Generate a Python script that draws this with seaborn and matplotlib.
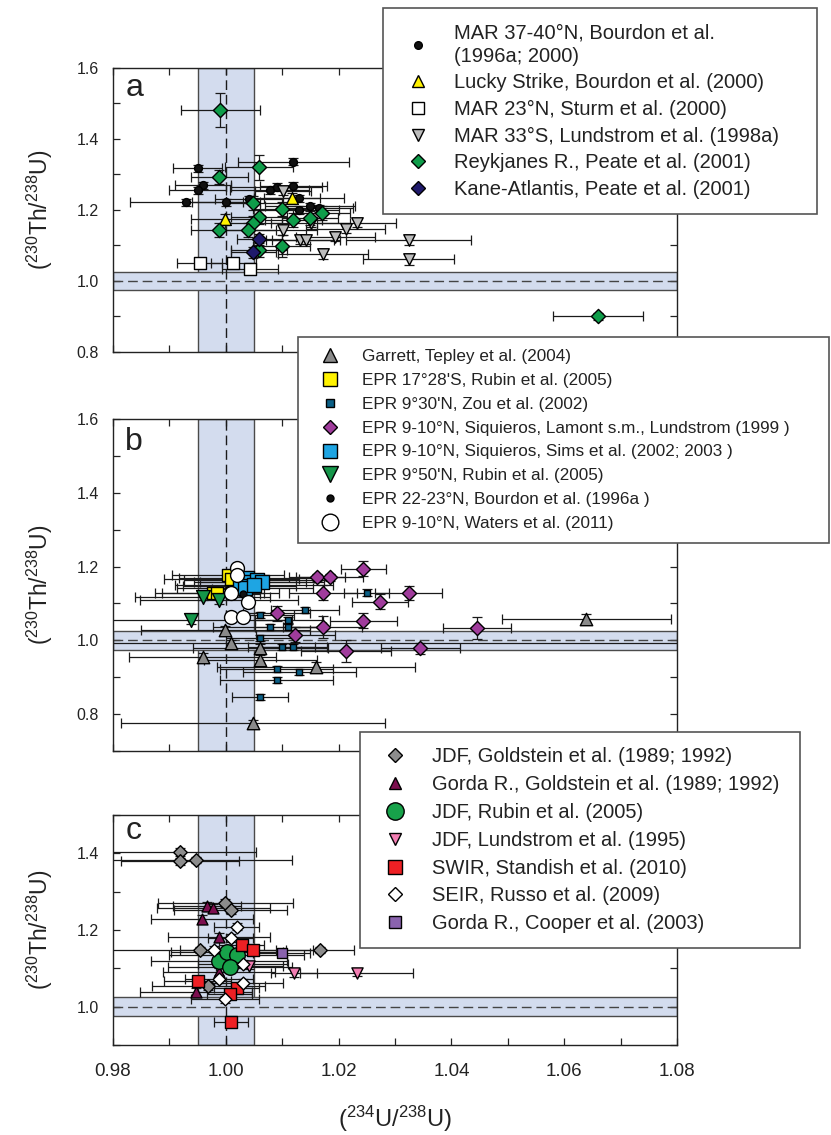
import matplotlib
matplotlib.use("Agg")
import matplotlib.pyplot as plt
from matplotlib.lines import Line2D
from matplotlib.ticker import MultipleLocator, FixedLocator
import seaborn as sns

sns.set_theme(style="ticks")
plt.rcParams["font.family"] = ["Liberation Sans", "DejaVu Sans"]
plt.rcParams["mathtext.fontset"] = "custom"
plt.rcParams["mathtext.rm"] = "Liberation Sans"
plt.rcParams["mathtext.it"] = "Liberation Sans:italic"
plt.rcParams["mathtext.default"] = "regular"

# ---------------- panel a : Mid-Atlantic Ridge ----------------
mar37_x = [0.9950, 1.0120, 0.9960, 0.9950, 0.9930, 1.0000, 1.0041, 1.0078, 1.0090, 1.0120, 1.0130, 1.0130, 1.0149, 1.0165]
mar37_y = [1.317, 1.336, 1.270, 1.256, 1.222, 1.222, 1.230, 1.256, 1.266, 1.268, 1.233, 1.200, 1.211, 1.205]
mar37_xe = [0.0044, 0.0099, 0.005, 0.005, 0.010, 0.006, 0.006, 0.007, 0.008, 0.006, 0.008, 0.007, 0.008, 0.006]
mar37_ye = [0.010, 0.010, 0.010, 0.010, 0.010, 0.010, 0.010, 0.010, 0.010, 0.012, 0.010, 0.010, 0.010, 0.010]

lucky_x = [1.0117, 0.9999]
lucky_y = [1.233, 1.174]
lucky_xe = [0.005, 0.006]
lucky_ye = [0.015, 0.015]

mar23_x = [0.9954, 1.0013, 1.0043]
mar23_y = [1.050, 1.052, 1.033]
mar23_xe = [0.004, 0.004, 0.005]
mar23_ye = [0.010, 0.010, 0.010]

mar33_x = [1.0101, 1.0101, 1.0132, 1.0142, 1.0151, 1.0194, 1.0213, 1.0232, 1.0172, 1.0324, 1.0324]
mar33_y = [1.253, 1.144, 1.115, 1.115, 1.163, 1.125, 1.146, 1.163, 1.076, 1.115, 1.061]
mar33_xe = [0.005, 0.006, 0.006, 0.006, 0.007, 0.007, 0.007, 0.007, 0.008, 0.011, 0.008]
mar33_ye = [0.010, 0.015, 0.012, 0.012, 0.012, 0.012, 0.012, 0.012, 0.015, 0.015, 0.015]

reyk_x = [0.9990, 1.0059, 0.99885, 1.0049, 1.0099, 1.0059, 1.0120, 1.0149, 1.0170, 1.0049, 1.0039, 0.99885, 1.0099, 1.0059, 1.0660]
reyk_y = [1.482, 1.320, 1.294, 1.219, 1.203, 1.181, 1.172, 1.177, 1.192, 1.1625, 1.144, 1.144, 1.099, 1.087, 0.901]
reyk_xe = [0.007, 0.006, 0.005, 0.005, 0.005, 0.005, 0.005, 0.005, 0.005, 0.005, 0.005, 0.005, 0.005, 0.005, 0.008]
reyk_ye = [0.047, 0.035, 0.020, 0.020, 0.020, 0.020, 0.020, 0.020, 0.020, 0.020, 0.020, 0.020, 0.030, 0.020, 0.010]

kane_x = [1.0059, 1.0049]
kane_y = [1.117, 1.081]
kane_xe = [0.004, 0.004]
kane_ye = [0.015, 0.015]

# ---------------- panel b : East Pacific Rise ----------------
gar_x = [0.9999, 1.0009, 0.9959, 1.0061, 1.0160, 1.0061, 1.0049, 1.0639]
gar_y = [1.028, 0.992, 0.956, 0.947, 0.929, 0.979, 0.775, 1.057]
gar_xe = [0.015, 0.080, 0.013, 0.010, 0.0176, 0.012, 0.0234, 0.015]
gar_ye = [0.010, 0.008, 0.010, 0.012, 0.012, 0.010, 0.008, 0.014]

epr17_x = [1.0004, 1.0010, 0.9977, 0.9984]
epr17_y = [1.177, 1.165, 1.128, 1.128]
epr17_xe = [0.010, 0.012, 0.009, 0.011]
epr17_ye = [0.008, 0.008, 0.008, 0.008]

zou_x = [1.0140, 1.0061, 1.0078, 1.0111, 1.0111, 1.0061, 1.0099, 1.0120, 1.0090, 1.0130, 1.0090, 1.0061, 1.0250]
zou_y = [1.082, 1.069, 1.037, 1.055, 1.037, 1.006, 0.983, 0.983, 0.922, 0.915, 0.893, 0.847, 1.129]
zou_xe = [0.006, 0.006, 0.010, 0.006, 0.006, 0.006, 0.006, 0.006, 0.010, 0.010, 0.010, 0.005, 0.004]
zou_ye = [0.008, 0.008, 0.008, 0.008, 0.008, 0.008, 0.008, 0.008, 0.008, 0.008, 0.008, 0.008, 0.010]

siq_x = [1.0244, 1.0162, 1.0184, 1.0172, 1.0273, 1.0324, 1.0244, 1.0172, 1.0445, 1.0090, 1.0123, 1.0213, 1.0345]
siq_y = [1.194, 1.171, 1.171, 1.129, 1.105, 1.128, 1.053, 1.037, 1.033, 1.073, 1.015, 0.972, 0.978]
siq_xe = [0.004, 0.005, 0.006, 0.006, 0.005, 0.006, 0.006, 0.007, 0.006, 0.006, 0.007, 0.008, 0.007]
siq_ye = [0.020, 0.010, 0.010, 0.020, 0.020, 0.020, 0.020, 0.030, 0.030, 0.020, 0.020, 0.030, 0.015]

sims_x = [1.0037, 1.0043, 1.0055, 1.0064, 1.0025, 1.0034, 1.0050]
sims_y = [1.168, 1.159, 1.164, 1.159, 1.146, 1.141, 1.150]
sims_xe = [0.012, 0.010, 0.013, 0.011, 0.010, 0.012, 0.014]
sims_ye = [0.008, 0.008, 0.008, 0.008, 0.008, 0.008, 0.008]

epr950_x = [0.9959, 0.99885, 0.9938]
epr950_y = [1.118, 1.109, 1.055]
epr950_xe = [0.012, 0.014, 0.018]
epr950_ye = [0.010, 0.010, 0.010]

epr22_x = [1.0005, 1.0030]
epr22_y = [1.140, 1.125]
epr22_xe = [0.003, 0.003]
epr22_ye = [0.005, 0.005]

waters_x = [1.0019, 1.0019, 1.0009, 1.0040, 1.0010, 1.0030]
waters_y = [1.197, 1.177, 1.128, 1.105, 1.063, 1.063]

# ---------------- panel c : Juan de Fuca, Gorda, SWIR, SEIR ----------------
jdfg_x = [0.9919, 0.9919, 0.9948, 0.9999, 1.0009, 1.0167, 0.9954, 0.9969]
jdfg_y = [1.403, 1.379, 1.383, 1.270, 1.253, 1.147, 1.147, 1.054]
jdfg_xe = [0.0135, 0.0105, 0.017, 0.012, 0.010, 0.006, 0.020, 0.010]
jdfg_ye = [0.010, 0.010, 0.008, 0.010, 0.010, 0.008, 0.008, 0.010]

gordag_x = [0.9967, 0.9978, 0.9958, 0.9988, 0.9947, 0.9988]
gordag_y = [1.263, 1.257, 1.229, 1.182, 1.038, 1.091]
gordag_xe = [0.006, 0.010, 0.009, 0.009, 0.010, 0.010]
gordag_ye = [0.010, 0.010, 0.010, 0.010, 0.010, 0.010]

jdfr_x = [0.9988, 1.0002, 1.0019, 1.0007]
jdfr_y = [1.120, 1.142, 1.134, 1.103]
jdfr_xe = [0.012, 0.010, 0.012, 0.011]
jdfr_ye = [0.010, 0.010, 0.010, 0.010]

jdfl_x = [1.0121, 1.0232, 1.0042]
jdfl_y = [1.087, 1.089, 1.107]
jdfl_xe = [0.004, 0.010, 0.006]
jdfl_ye = [0.010, 0.010, 0.010]

swir_x = [1.0028, 1.0049, 0.9950, 1.0019, 1.0007, 1.0009]
swir_y = [1.160, 1.149, 1.067, 1.048, 1.032, 0.961]
swir_xe = [0.004, 0.004, 0.006, 0.004, 0.004, 0.003]
swir_ye = [0.010, 0.010, 0.010, 0.010, 0.010, 0.008]

seir_x = [1.0019, 1.0009, 0.9979, 1.0031, 0.9988, 1.0031, 0.9999]
seir_y = [1.209, 1.180, 1.149, 1.111, 1.072, 1.063, 1.019]
seir_xe = [0.004, 0.004, 0.006, 0.008, 0.006, 0.007, 0.006]
seir_ye = [0.010, 0.010, 0.010, 0.010, 0.010, 0.010, 0.010]

gordac_x = [1.0099]
gordac_y = [1.140]
gordac_xe = [0.005]
gordac_ye = [0.010]

# ---------------- legend labels ----------------
labels_a = ["MAR 37-40°N, Bourdon et al.\n(1996a; 2000)",
            "Lucky Strike, Bourdon et al. (2000)",
            "MAR 23°N, Sturm et al. (2000)",
            "MAR 33°S, Lundstrom et al. (1998a)",
            "Reykjanes R., Peate et al. (2001)",
            "Kane-Atlantis, Peate et al. (2001)"]
labels_b = ["Garrett, Tepley et al. (2004)",
            "EPR 17°28'S, Rubin et al. (2005)",
            "EPR 9°30'N, Zou et al. (2002)",
            "EPR 9-10°N, Siquieros, Lamont s.m., Lundstrom (1999 )",
            "EPR 9-10°N, Siquieros, Sims et al. (2002; 2003 )",
            "EPR 9°50'N, Rubin et al. (2005)",
            "EPR 22-23°N, Bourdon et al. (1996a )",
            "EPR 9-10°N, Waters et al. (2011)"]
labels_c = ["JDF, Goldstein et al. (1989; 1992)",
            "Gorda R., Goldstein et al. (1989; 1992)",
            "JDF, Rubin et al. (2005)",
            "JDF, Lundstrom et al. (1995)",
            "SWIR, Standish et al. (2010)",
            "SEIR, Russo et al. (2009)",
            "Gorda R., Cooper et al. (2003)"]

x_ticks = [0.98, 1.00, 1.02, 1.04, 1.06, 1.08]

# series styling: (x, y, xerr, yerr, marker, face, scatter size, legend size)
series_a = [
    (mar37_x, mar37_y, mar37_xe, mar37_ye, "o", "#111111", 32, 5.5),
    (lucky_x, lucky_y, lucky_xe, lucky_ye, "^", "#fff200", 72, 9),
    (mar23_x, mar23_y, mar23_xe, mar23_ye, "s", "#ffffff", 72, 8.5),
    (mar33_x, mar33_y, mar33_xe, mar33_ye, "v", "#bdbdbd", 68, 8.5),
    (reyk_x, reyk_y, reyk_xe, reyk_ye, "D", "#0f9d4a", 52, 7),
    (kane_x, kane_y, kane_xe, kane_ye, "D", "#1f1a6b", 52, 7),
]
series_b = [
    (gar_x, gar_y, gar_xe, gar_ye, "^", "#8a8a8a", 80, 9.5),
    (epr17_x, epr17_y, epr17_xe, epr17_ye, "s", "#fff200", 75, 10),
    (zou_x, zou_y, zou_xe, zou_ye, "s", "#0b5f86", 25, 5.5),
    (siq_x, siq_y, siq_xe, siq_ye, "D", "#a03c9c", 52, 7),
    (sims_x, sims_y, sims_xe, sims_ye, "s", "#1ea5e3", 88, 10),
    (epr950_x, epr950_y, epr950_xe, epr950_ye, "v", "#15964a", 100, 11),
    (epr22_x, epr22_y, epr22_xe, epr22_ye, "o", "#111111", 25, 5),
    (waters_x, waters_y, None, None, "o", "#ffffff", 100, 12),
]
series_c = [
    (jdfg_x, jdfg_y, jdfg_xe, jdfg_ye, "D", "#8c8c8c", 48, 7),
    (gordag_x, gordag_y, gordag_xe, gordag_ye, "^", "#7d0f4f", 62, 8.5),
    (jdfr_x, jdfr_y, jdfr_xe, jdfr_ye, "o", "#17a24a", 125, 12.5),
    (jdfl_x, jdfl_y, jdfl_xe, jdfl_ye, "v", "#f37eb3", 65, 9),
    (swir_x, swir_y, swir_xe, swir_ye, "s", "#ee2024", 82, 10.5),
    (seir_x, seir_y, seir_xe, seir_ye, "D", "#ffffff", 42, 7),
    (gordac_x, gordac_y, gordac_xe, gordac_ye, "s", "#8a63ae", 58, 8.5),
]

W, H = 831, 1135
fig = plt.figure(figsize=(W / 100, H / 100), dpi=100)


def frac(x0, y0, x1, y1):
    return [x0 / W, 1 - y1 / H, (x1 - x0) / W, (y1 - y0) / H]


ax_a = fig.add_axes(frac(113, 68, 677, 352))
ax_b = fig.add_axes(frac(113, 419, 677, 751))
ax_c = fig.add_axes(frac(113, 815, 677, 1045))

band_face = "#d3dcee"
band_edge = "#4a4a4a"
ink = "#1a1a1a"


def draw_panel(ax, series, ylim, ymajor, letter):
    ax.set_xlim(0.98, 1.08)
    ax.set_ylim(*ylim)
    # secular-equilibrium bands
    ax.axvspan(0.995, 1.005, facecolor=band_face, edgecolor=band_edge, lw=1.0, zorder=0.5)
    ax.axhspan(0.975, 1.025, facecolor=band_face, edgecolor=band_edge, lw=1.0, zorder=0.5)
    ax.axvline(1.0, color=ink, lw=1.0, ls=(0, (7, 3.5)), zorder=0.8)
    ax.axhline(1.0, color="#444444", lw=1.0, ls=(0, (7, 3.5)), zorder=0.8)
    for xs, ys, xe, ye, mk, fc, s, _ in series:
        if xe is not None:
            ax.errorbar(xs, ys, xerr=xe, yerr=ye, fmt="none", ecolor=ink,
                        elinewidth=0.9, capsize=3.3, capthick=0.9, zorder=2)
        sns.scatterplot(x=xs, y=ys, ax=ax, marker=mk, s=s, color=fc,
                        edgecolor="black", linewidth=1.0, zorder=3, legend=False)
    ax.xaxis.set_major_locator(FixedLocator(x_ticks))
    ax.xaxis.set_minor_locator(MultipleLocator(0.01))
    ax.yaxis.set_major_locator(FixedLocator(ymajor))
    ax.yaxis.set_minor_locator(MultipleLocator(0.1))
    ax.tick_params(which="both", direction="in", top=True, right=True,
                   length=5, width=0.9, color="#222222")
    ax.tick_params(axis="y", labelsize=11.5, pad=10, labelcolor="#222222")
    ax.set_yticklabels([f"{v:.1f}" for v in ymajor])
    for sp in ax.spines.values():
        sp.set_linewidth(1.0)
        sp.set_color("#222222")
    ax.set_xlabel("")
    ax.set_ylabel(r"($^{230}$Th/$^{238}$U)", fontsize=16.5, color="#222222")
    ax.yaxis.set_label_coords(-0.102, 0.5)
    ax.text(0.022, 0.93, letter, transform=ax.transAxes, fontsize=23,
            ha="left", va="center", color="#222222")


draw_panel(ax_a, series_a, (0.8, 1.6), [0.8, 1.0, 1.2, 1.4, 1.6], "a")
draw_panel(ax_b, series_b, (0.7, 1.6), [0.8, 1.0, 1.2, 1.4, 1.6], "b")
draw_panel(ax_c, series_c, (0.9, 1.5), [1.0, 1.2, 1.4], "c")

for ax in (ax_a, ax_b):
    ax.tick_params(axis="x", labelbottom=False)

ax_c.set_xticklabels([f"{v:.2f}" for v in x_ticks])
ax_c.tick_params(axis="x", pad=13, labelcolor="#222222", labelsize=13.5)
ax_c.set_xlabel(r"($^{234}$U/$^{238}$U)", fontsize=17, color="#222222")
ax_c.xaxis.set_label_coords(0.5, -0.255)


def handles_for(series):
    return [Line2D([], [], ls="none", marker=mk, markersize=ms, markerfacecolor=fc,
                   markeredgecolor="black", markeredgewidth=1.0)
            for *_, mk, fc, s, ms in series]


def place_legend(series, labels, box, fontsize, spacing, bpad, hlen, tpad, lsp):
    x0, y0, x1, y1 = box
    leg = fig.legend(handles_for(series), labels, loc="upper left",
                     bbox_to_anchor=(x0 / W, 1 - y0 / H, (x1 - x0) / W, 0),
                     mode="expand", fontsize=fontsize, frameon=True, fancybox=False,
                     borderaxespad=0, borderpad=bpad, labelspacing=spacing,
                     handlelength=hlen, handletextpad=tpad, ncol=1)
    fr = leg.get_frame()
    fr.set_edgecolor("#555555")
    fr.set_linewidth(1.2)
    fr.set_facecolor("white")
    fr.set_alpha(1)
    for t in leg.get_texts():
        t.set_color("#222222")
        t.set_linespacing(lsp)
    return leg


place_legend(series_a, labels_a, (383, 8, 817, 217), 14.5, 0.38, 0.75, 2.0, 0.8, 1.3)
place_legend(series_b, labels_b, (298, 337, 829, 546), 12.3, 0.52, 0.7, 2.4, 0.65, 1.2)
place_legend(series_c, labels_c, (360, 732, 800, 947), 14.5, 0.44, 0.75, 2.0, 0.85, 1.2)

fig.savefig("out.png", dpi=100)
